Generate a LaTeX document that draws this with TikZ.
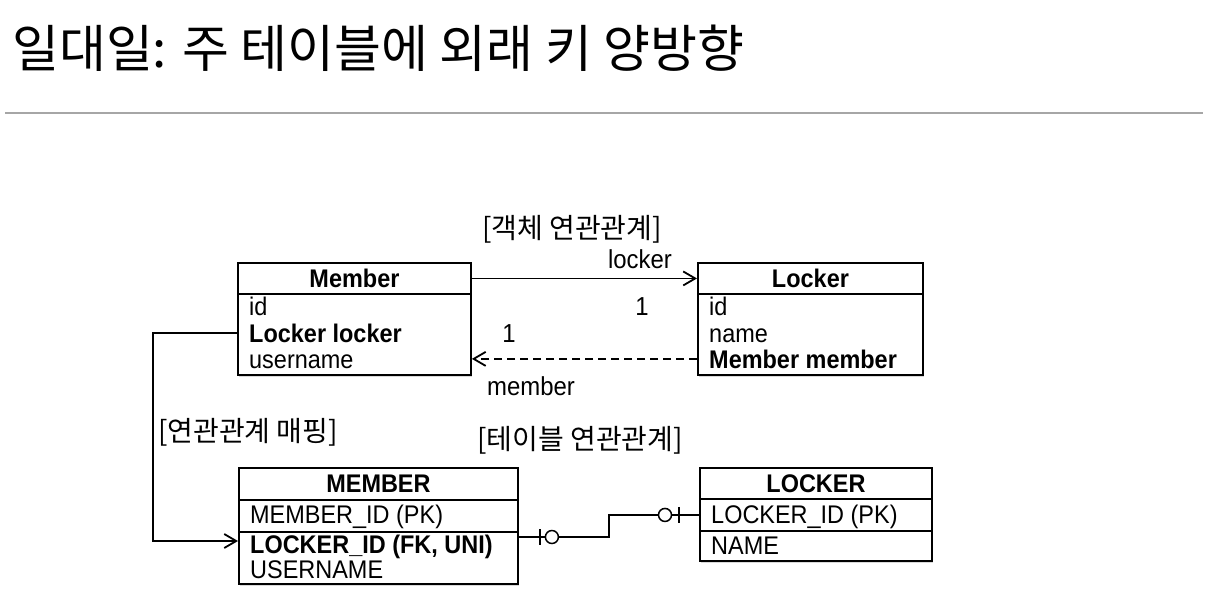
\documentclass[tikz,border=0pt]{standalone}
\usepackage{fontspec}
\setmainfont{Liberation Sans}[FakeStretch=0.92]
\newfontfamily\kr{Noto Sans CJK KR}
\usetikzlibrary{arrows.meta,shadows}

\begin{document}
\begin{tikzpicture}[x=1pt,y=-1pt,
  box/.style={draw,line width=1.9pt,fill=white,inner sep=0,anchor=north west,
    drop shadow={shadow xshift=1.5pt,shadow yshift=-2pt,opacity=0.3}},
  head/.style={box,font=\bfseries\fontsize{25.5}{28}\selectfont},
  attr/.style={anchor=base west,inner sep=0,font=\fontsize{25.5}{28}\selectfont},
  role/.style={anchor=base,inner sep=0,font=\fontsize{26}{28}\selectfont},
  lbl/.style={inner sep=0,font=\kr\fontsize{28}{30}\selectfont},
  link/.style={line width=1.8pt},
  arr/.style={-{Straight Barb[length=12pt,width=14pt,line width=1.8pt]}}]
\useasboundingbox (0,0) rectangle (1223,604);

% Title
\node[anchor=west,inner sep=0,font=\kr\fontsize{51}{53}\selectfont] (title) at (12,48) {일대일: 주 테이블에 외래 키 양방향};
\draw[black!35,line width=1.5pt] (5,113) -- (1203,113);

% Member class
\node[head,minimum width=233pt,minimum height=31pt] (memberHead) at (237,262) {Member};
\node[box,minimum width=233pt,minimum height=81pt] (memberBody) at (237,293) {};
\node[attr] (mId) at (249,315) {id};
\node[attr,font=\bfseries\fontsize{25.5}{28}\selectfont] (mLocker) at (249,342) {Locker locker};
\node[attr] (mName) at (249,368) {username};

% Locker class
\node[head,minimum width=225pt,minimum height=31pt] (lockerHead) at (697,262) {Locker};
\node[box,minimum width=225pt,minimum height=81pt] (lockerBody) at (697,293) {};
\node[attr] (lId) at (709,315) {id};
\node[attr] (lName) at (709,342) {name};
\node[attr,font=\bfseries\fontsize{25.5}{28}\selectfont] (lMember) at (709,368) {Member member};

% MEMBER table
\node[head,minimum width=279pt,minimum height=32pt] (tmHead) at (238,467) {MEMBER};
\node[box,minimum width=279pt,minimum height=32pt] (tmPk) at (238,499) {};
\node[box,minimum width=279pt,minimum height=52pt] (tmBody) at (238,531) {};
\node[attr] (tmId) at (250,523) {MEMBER\_ID (PK)};
\node[attr,font=\bfseries\fontsize{25.5}{28}\selectfont] (tmFk) at (250,553) {LOCKER\_ID (FK, UNI)};
\node[attr] (tmName) at (250,578) {USERNAME};

% LOCKER table
\node[head,minimum width=232pt,minimum height=31pt] (tlHead) at (699,467) {LOCKER};
\node[box,minimum width=232pt,minimum height=32pt] (tlPk) at (699,498) {};
\node[box,minimum width=232pt,minimum height=30pt] (tlBody) at (699,530) {};
\node[attr] (tlId) at (711,523) {LOCKER\_ID (PK)};
\node[attr] (tlName) at (711,554) {NAME};

% Labels
\node[lbl] (objLbl) at (572,229) {[객체 연관관계]};
\node[lbl] (mapLbl) at (248,432) {[연관관계 매핑]};
\node[lbl] (tblLbl) at (580,440) {[테이블 연관관계]};
\node[role] (rLocker) at (640,268) {locker};
\node[role] (rOne) at (642,315) {1};
\node[role] (rOneB) at (509,342) {1};
\node[role] (rMember) at (531,395) {member};

% Object links
\draw[link,arr] (memberHead.east) -- (lockerHead.west);
\draw[link,arr,dash pattern=on 8pt off 5pt] (lockerBody.west |- lMember) -- (memberBody.east |- lMember);

% Mapping
\draw[link,arr] (memberBody.west |- mLocker) -- ++(-84,0) |- ([yshift=-10pt]tmBody.north west);

% Table link
\draw[link] ([yshift=-6pt]tmBody.north east) coordinate (fkOut) -- ++(90,0) |- (tlPk.west) coordinate (fkIn);
\draw[link] ([xshift=21pt]fkOut) ++(0,-8) -- ++(0,16);
\draw[line width=1.5pt,fill=white] ([xshift=33pt]fkOut) circle[radius=6.5pt];
\draw[line width=1.5pt,fill=white] ([xshift=-34pt]fkIn) circle[radius=6.5pt];
\draw[link] ([xshift=-20pt]fkIn) ++(0,-8) -- ++(0,16);
\end{tikzpicture}
\end{document}
